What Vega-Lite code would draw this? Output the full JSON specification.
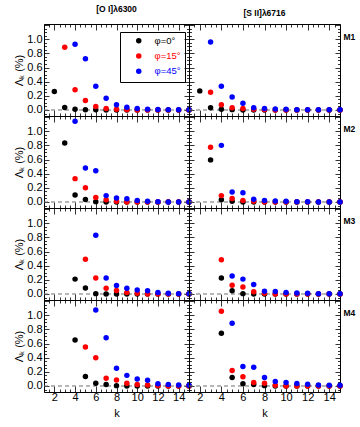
{
"$schema": "https://vega.github.io/schema/vega-lite/v6.json",
"background": "white",
"padding": {"left": 13, "top": 4, "right": 2, "bottom": 2},
"datasets": {"d": [
{"m":"M1","line":"OI","phi":"φ=0°","k":2,"val":0.26},{"m":"M1","line":"OI","phi":"φ=0°","k":3,"val":0.035},{"m":"M1","line":"OI","phi":"φ=0°","k":4,"val":0.01},{"m":"M1","line":"OI","phi":"φ=0°","k":5,"val":0.004},{"m":"M1","line":"OI","phi":"φ=0°","k":6,"val":0.002},{"m":"M1","line":"OI","phi":"φ=0°","k":7,"val":0},{"m":"M1","line":"OI","phi":"φ=0°","k":8,"val":0},{"m":"M1","line":"OI","phi":"φ=0°","k":9,"val":0},{"m":"M1","line":"OI","phi":"φ=0°","k":10,"val":0},{"m":"M1","line":"OI","phi":"φ=0°","k":11,"val":0},{"m":"M1","line":"OI","phi":"φ=0°","k":12,"val":0},{"m":"M1","line":"OI","phi":"φ=0°","k":13,"val":0},{"m":"M1","line":"OI","phi":"φ=0°","k":14,"val":0},{"m":"M1","line":"OI","phi":"φ=0°","k":15,"val":0},
{"m":"M1","line":"OI","phi":"φ=15°","k":3,"val":0.885},{"m":"M1","line":"OI","phi":"φ=15°","k":4,"val":0.285},{"m":"M1","line":"OI","phi":"φ=15°","k":5,"val":0.135},{"m":"M1","line":"OI","phi":"φ=15°","k":6,"val":0.05},{"m":"M1","line":"OI","phi":"φ=15°","k":7,"val":0.02},{"m":"M1","line":"OI","phi":"φ=15°","k":8,"val":0.01},{"m":"M1","line":"OI","phi":"φ=15°","k":9,"val":0.005},{"m":"M1","line":"OI","phi":"φ=15°","k":10,"val":0},{"m":"M1","line":"OI","phi":"φ=15°","k":11,"val":0},{"m":"M1","line":"OI","phi":"φ=15°","k":12,"val":0},{"m":"M1","line":"OI","phi":"φ=15°","k":13,"val":0},{"m":"M1","line":"OI","phi":"φ=15°","k":14,"val":0},{"m":"M1","line":"OI","phi":"φ=15°","k":15,"val":0},
{"m":"M1","line":"OI","phi":"φ=45°","k":4,"val":0.93},{"m":"M1","line":"OI","phi":"φ=45°","k":5,"val":0.725},{"m":"M1","line":"OI","phi":"φ=45°","k":6,"val":0.335},{"m":"M1","line":"OI","phi":"φ=45°","k":7,"val":0.165},{"m":"M1","line":"OI","phi":"φ=45°","k":8,"val":0.075},{"m":"M1","line":"OI","phi":"φ=45°","k":9,"val":0.04},{"m":"M1","line":"OI","phi":"φ=45°","k":10,"val":0.02},{"m":"M1","line":"OI","phi":"φ=45°","k":11,"val":0.012},{"m":"M1","line":"OI","phi":"φ=45°","k":12,"val":0.008},{"m":"M1","line":"OI","phi":"φ=45°","k":13,"val":0.005},{"m":"M1","line":"OI","phi":"φ=45°","k":14,"val":0.003},{"m":"M1","line":"OI","phi":"φ=45°","k":15,"val":0.002},

{"m":"M1","line":"SII","phi":"φ=0°","k":2,"val":0.27},{"m":"M1","line":"SII","phi":"φ=0°","k":3,"val":0.03},{"m":"M1","line":"SII","phi":"φ=0°","k":4,"val":0.01},{"m":"M1","line":"SII","phi":"φ=0°","k":5,"val":0.005},{"m":"M1","line":"SII","phi":"φ=0°","k":6,"val":0},{"m":"M1","line":"SII","phi":"φ=0°","k":7,"val":0},{"m":"M1","line":"SII","phi":"φ=0°","k":8,"val":0},{"m":"M1","line":"SII","phi":"φ=0°","k":9,"val":0},{"m":"M1","line":"SII","phi":"φ=0°","k":10,"val":0},{"m":"M1","line":"SII","phi":"φ=0°","k":11,"val":0},{"m":"M1","line":"SII","phi":"φ=0°","k":12,"val":0},{"m":"M1","line":"SII","phi":"φ=0°","k":13,"val":0},{"m":"M1","line":"SII","phi":"φ=0°","k":14,"val":0},{"m":"M1","line":"SII","phi":"φ=0°","k":15,"val":0},
{"m":"M1","line":"SII","phi":"φ=15°","k":3,"val":0.25},{"m":"M1","line":"SII","phi":"φ=15°","k":4,"val":0.075},{"m":"M1","line":"SII","phi":"φ=15°","k":5,"val":0.03},{"m":"M1","line":"SII","phi":"φ=15°","k":6,"val":0.02},{"m":"M1","line":"SII","phi":"φ=15°","k":7,"val":0.01},{"m":"M1","line":"SII","phi":"φ=15°","k":8,"val":0.005},{"m":"M1","line":"SII","phi":"φ=15°","k":9,"val":0},{"m":"M1","line":"SII","phi":"φ=15°","k":10,"val":0},{"m":"M1","line":"SII","phi":"φ=15°","k":11,"val":0},{"m":"M1","line":"SII","phi":"φ=15°","k":12,"val":0},{"m":"M1","line":"SII","phi":"φ=15°","k":13,"val":0},{"m":"M1","line":"SII","phi":"φ=15°","k":14,"val":0},{"m":"M1","line":"SII","phi":"φ=15°","k":15,"val":0},
{"m":"M1","line":"SII","phi":"φ=45°","k":3,"val":0.96},{"m":"M1","line":"SII","phi":"φ=45°","k":4,"val":0.335},{"m":"M1","line":"SII","phi":"φ=45°","k":5,"val":0.185},{"m":"M1","line":"SII","phi":"φ=45°","k":6,"val":0.095},{"m":"M1","line":"SII","phi":"φ=45°","k":7,"val":0.03},{"m":"M1","line":"SII","phi":"φ=45°","k":8,"val":0.02},{"m":"M1","line":"SII","phi":"φ=45°","k":9,"val":0.015},{"m":"M1","line":"SII","phi":"φ=45°","k":10,"val":0.01},{"m":"M1","line":"SII","phi":"φ=45°","k":11,"val":0.005},{"m":"M1","line":"SII","phi":"φ=45°","k":12,"val":0.002},{"m":"M1","line":"SII","phi":"φ=45°","k":13,"val":0.002},{"m":"M1","line":"SII","phi":"φ=45°","k":14,"val":0.002},{"m":"M1","line":"SII","phi":"φ=45°","k":15,"val":0.002},

{"m":"M2","line":"OI","phi":"φ=0°","k":3,"val":0.835},{"m":"M2","line":"OI","phi":"φ=0°","k":4,"val":0.1},{"m":"M2","line":"OI","phi":"φ=0°","k":5,"val":0.035},{"m":"M2","line":"OI","phi":"φ=0°","k":6,"val":0.005},{"m":"M2","line":"OI","phi":"φ=0°","k":7,"val":0},{"m":"M2","line":"OI","phi":"φ=0°","k":8,"val":0},{"m":"M2","line":"OI","phi":"φ=0°","k":9,"val":0},{"m":"M2","line":"OI","phi":"φ=0°","k":10,"val":0},{"m":"M2","line":"OI","phi":"φ=0°","k":11,"val":0},{"m":"M2","line":"OI","phi":"φ=0°","k":12,"val":0},{"m":"M2","line":"OI","phi":"φ=0°","k":13,"val":0},{"m":"M2","line":"OI","phi":"φ=0°","k":14,"val":0},{"m":"M2","line":"OI","phi":"φ=0°","k":15,"val":0},
{"m":"M2","line":"OI","phi":"φ=15°","k":4,"val":0.33},{"m":"M2","line":"OI","phi":"φ=15°","k":5,"val":0.2},{"m":"M2","line":"OI","phi":"φ=15°","k":6,"val":0.065},{"m":"M2","line":"OI","phi":"φ=15°","k":7,"val":0.03},{"m":"M2","line":"OI","phi":"φ=15°","k":8,"val":0.01},{"m":"M2","line":"OI","phi":"φ=15°","k":9,"val":0},{"m":"M2","line":"OI","phi":"φ=15°","k":10,"val":0},{"m":"M2","line":"OI","phi":"φ=15°","k":11,"val":0},{"m":"M2","line":"OI","phi":"φ=15°","k":12,"val":0},{"m":"M2","line":"OI","phi":"φ=15°","k":13,"val":0},{"m":"M2","line":"OI","phi":"φ=15°","k":14,"val":0},{"m":"M2","line":"OI","phi":"φ=15°","k":15,"val":0},
{"m":"M2","line":"OI","phi":"φ=45°","k":4,"val":1.14},{"m":"M2","line":"OI","phi":"φ=45°","k":5,"val":0.48},{"m":"M2","line":"OI","phi":"φ=45°","k":6,"val":0.44},{"m":"M2","line":"OI","phi":"φ=45°","k":7,"val":0.09},{"m":"M2","line":"OI","phi":"φ=45°","k":8,"val":0.055},{"m":"M2","line":"OI","phi":"φ=45°","k":9,"val":0.045},{"m":"M2","line":"OI","phi":"φ=45°","k":10,"val":0.02},{"m":"M2","line":"OI","phi":"φ=45°","k":11,"val":0.01},{"m":"M2","line":"OI","phi":"φ=45°","k":12,"val":0.005},{"m":"M2","line":"OI","phi":"φ=45°","k":13,"val":0},{"m":"M2","line":"OI","phi":"φ=45°","k":14,"val":0},{"m":"M2","line":"OI","phi":"φ=45°","k":15,"val":0},

{"m":"M2","line":"SII","phi":"φ=0°","k":3,"val":0.595},{"m":"M2","line":"SII","phi":"φ=0°","k":4,"val":0.03},{"m":"M2","line":"SII","phi":"φ=0°","k":5,"val":0.01},{"m":"M2","line":"SII","phi":"φ=0°","k":6,"val":0},{"m":"M2","line":"SII","phi":"φ=0°","k":7,"val":0},{"m":"M2","line":"SII","phi":"φ=0°","k":8,"val":0},{"m":"M2","line":"SII","phi":"φ=0°","k":9,"val":0},{"m":"M2","line":"SII","phi":"φ=0°","k":10,"val":0},{"m":"M2","line":"SII","phi":"φ=0°","k":11,"val":0},{"m":"M2","line":"SII","phi":"φ=0°","k":12,"val":0},{"m":"M2","line":"SII","phi":"φ=0°","k":13,"val":0},{"m":"M2","line":"SII","phi":"φ=0°","k":14,"val":0},{"m":"M2","line":"SII","phi":"φ=0°","k":15,"val":0},
{"m":"M2","line":"SII","phi":"φ=15°","k":3,"val":0.775},{"m":"M2","line":"SII","phi":"φ=15°","k":4,"val":0.09},{"m":"M2","line":"SII","phi":"φ=15°","k":5,"val":0.05},{"m":"M2","line":"SII","phi":"φ=15°","k":6,"val":0.02},{"m":"M2","line":"SII","phi":"φ=15°","k":7,"val":0.01},{"m":"M2","line":"SII","phi":"φ=15°","k":8,"val":0},{"m":"M2","line":"SII","phi":"φ=15°","k":9,"val":0},{"m":"M2","line":"SII","phi":"φ=15°","k":10,"val":0},{"m":"M2","line":"SII","phi":"φ=15°","k":11,"val":0},{"m":"M2","line":"SII","phi":"φ=15°","k":12,"val":0},{"m":"M2","line":"SII","phi":"φ=15°","k":13,"val":0},{"m":"M2","line":"SII","phi":"φ=15°","k":14,"val":0},{"m":"M2","line":"SII","phi":"φ=15°","k":15,"val":0},
{"m":"M2","line":"SII","phi":"φ=45°","k":4,"val":0.8},{"m":"M2","line":"SII","phi":"φ=45°","k":5,"val":0.14},{"m":"M2","line":"SII","phi":"φ=45°","k":6,"val":0.13},{"m":"M2","line":"SII","phi":"φ=45°","k":7,"val":0.04},{"m":"M2","line":"SII","phi":"φ=45°","k":8,"val":0.02},{"m":"M2","line":"SII","phi":"φ=45°","k":9,"val":0.015},{"m":"M2","line":"SII","phi":"φ=45°","k":10,"val":0.01},{"m":"M2","line":"SII","phi":"φ=45°","k":11,"val":0.003},{"m":"M2","line":"SII","phi":"φ=45°","k":12,"val":0.002},{"m":"M2","line":"SII","phi":"φ=45°","k":13,"val":0},{"m":"M2","line":"SII","phi":"φ=45°","k":14,"val":0},{"m":"M2","line":"SII","phi":"φ=45°","k":15,"val":0},

{"m":"M3","line":"OI","phi":"φ=0°","k":4,"val":0.21},{"m":"M3","line":"OI","phi":"φ=0°","k":5,"val":0.085},{"m":"M3","line":"OI","phi":"φ=0°","k":6,"val":0.005},{"m":"M3","line":"OI","phi":"φ=0°","k":7,"val":0},{"m":"M3","line":"OI","phi":"φ=0°","k":8,"val":0},{"m":"M3","line":"OI","phi":"φ=0°","k":9,"val":0},{"m":"M3","line":"OI","phi":"φ=0°","k":10,"val":0},{"m":"M3","line":"OI","phi":"φ=0°","k":11,"val":0},{"m":"M3","line":"OI","phi":"φ=0°","k":12,"val":0},{"m":"M3","line":"OI","phi":"φ=0°","k":13,"val":0},{"m":"M3","line":"OI","phi":"φ=0°","k":14,"val":0},{"m":"M3","line":"OI","phi":"φ=0°","k":15,"val":0},
{"m":"M3","line":"OI","phi":"φ=15°","k":5,"val":0.49},{"m":"M3","line":"OI","phi":"φ=15°","k":6,"val":0.225},{"m":"M3","line":"OI","phi":"φ=15°","k":7,"val":0.08},{"m":"M3","line":"OI","phi":"φ=15°","k":8,"val":0.05},{"m":"M3","line":"OI","phi":"φ=15°","k":9,"val":0.02},{"m":"M3","line":"OI","phi":"φ=15°","k":10,"val":0.01},{"m":"M3","line":"OI","phi":"φ=15°","k":11,"val":0},{"m":"M3","line":"OI","phi":"φ=15°","k":12,"val":0},{"m":"M3","line":"OI","phi":"φ=15°","k":13,"val":0},{"m":"M3","line":"OI","phi":"φ=15°","k":14,"val":0},{"m":"M3","line":"OI","phi":"φ=15°","k":15,"val":0},
{"m":"M3","line":"OI","phi":"φ=45°","k":6,"val":0.83},{"m":"M3","line":"OI","phi":"φ=45°","k":7,"val":0.225},{"m":"M3","line":"OI","phi":"φ=45°","k":8,"val":0.12},{"m":"M3","line":"OI","phi":"φ=45°","k":9,"val":0.08},{"m":"M3","line":"OI","phi":"φ=45°","k":10,"val":0.055},{"m":"M3","line":"OI","phi":"φ=45°","k":11,"val":0.045},{"m":"M3","line":"OI","phi":"φ=45°","k":12,"val":0.02},{"m":"M3","line":"OI","phi":"φ=45°","k":13,"val":0.01},{"m":"M3","line":"OI","phi":"φ=45°","k":14,"val":0.005},{"m":"M3","line":"OI","phi":"φ=45°","k":15,"val":0.003},

{"m":"M3","line":"SII","phi":"φ=0°","k":4,"val":0.225},{"m":"M3","line":"SII","phi":"φ=0°","k":5,"val":0.045},{"m":"M3","line":"SII","phi":"φ=0°","k":6,"val":0.005},{"m":"M3","line":"SII","phi":"φ=0°","k":7,"val":0},{"m":"M3","line":"SII","phi":"φ=0°","k":8,"val":0},{"m":"M3","line":"SII","phi":"φ=0°","k":9,"val":0},{"m":"M3","line":"SII","phi":"φ=0°","k":10,"val":0},{"m":"M3","line":"SII","phi":"φ=0°","k":11,"val":0},{"m":"M3","line":"SII","phi":"φ=0°","k":12,"val":0},{"m":"M3","line":"SII","phi":"φ=0°","k":13,"val":0},{"m":"M3","line":"SII","phi":"φ=0°","k":14,"val":0},{"m":"M3","line":"SII","phi":"φ=0°","k":15,"val":0},
{"m":"M3","line":"SII","phi":"φ=15°","k":4,"val":0.485},{"m":"M3","line":"SII","phi":"φ=15°","k":5,"val":0.125},{"m":"M3","line":"SII","phi":"φ=15°","k":6,"val":0.1},{"m":"M3","line":"SII","phi":"φ=15°","k":7,"val":0.03},{"m":"M3","line":"SII","phi":"φ=15°","k":8,"val":0.01},{"m":"M3","line":"SII","phi":"φ=15°","k":9,"val":0},{"m":"M3","line":"SII","phi":"φ=15°","k":10,"val":0},{"m":"M3","line":"SII","phi":"φ=15°","k":11,"val":0},{"m":"M3","line":"SII","phi":"φ=15°","k":12,"val":0},{"m":"M3","line":"SII","phi":"φ=15°","k":13,"val":0},{"m":"M3","line":"SII","phi":"φ=15°","k":14,"val":0},{"m":"M3","line":"SII","phi":"φ=15°","k":15,"val":0},
{"m":"M3","line":"SII","phi":"φ=45°","k":5,"val":0.255},{"m":"M3","line":"SII","phi":"φ=45°","k":6,"val":0.21},{"m":"M3","line":"SII","phi":"φ=45°","k":7,"val":0.135},{"m":"M3","line":"SII","phi":"φ=45°","k":8,"val":0.04},{"m":"M3","line":"SII","phi":"φ=45°","k":9,"val":0.035},{"m":"M3","line":"SII","phi":"φ=45°","k":10,"val":0.02},{"m":"M3","line":"SII","phi":"φ=45°","k":11,"val":0.015},{"m":"M3","line":"SII","phi":"φ=45°","k":12,"val":0.01},{"m":"M3","line":"SII","phi":"φ=45°","k":13,"val":0.005},{"m":"M3","line":"SII","phi":"φ=45°","k":14,"val":0.002},{"m":"M3","line":"SII","phi":"φ=45°","k":15,"val":0.002},

{"m":"M4","line":"OI","phi":"φ=0°","k":4,"val":0.65},{"m":"M4","line":"OI","phi":"φ=0°","k":5,"val":0.135},{"m":"M4","line":"OI","phi":"φ=0°","k":6,"val":0.04},{"m":"M4","line":"OI","phi":"φ=0°","k":7,"val":0.02},{"m":"M4","line":"OI","phi":"φ=0°","k":8,"val":0.005},{"m":"M4","line":"OI","phi":"φ=0°","k":9,"val":0},{"m":"M4","line":"OI","phi":"φ=0°","k":10,"val":0},{"m":"M4","line":"OI","phi":"φ=0°","k":11,"val":0},{"m":"M4","line":"OI","phi":"φ=0°","k":12,"val":0},{"m":"M4","line":"OI","phi":"φ=0°","k":13,"val":0},{"m":"M4","line":"OI","phi":"φ=0°","k":14,"val":0},{"m":"M4","line":"OI","phi":"φ=0°","k":15,"val":0},
{"m":"M4","line":"OI","phi":"φ=15°","k":5,"val":0.55},{"m":"M4","line":"OI","phi":"φ=15°","k":6,"val":0.4},{"m":"M4","line":"OI","phi":"φ=15°","k":7,"val":0.11},{"m":"M4","line":"OI","phi":"φ=15°","k":8,"val":0.085},{"m":"M4","line":"OI","phi":"φ=15°","k":9,"val":0.04},{"m":"M4","line":"OI","phi":"φ=15°","k":10,"val":0.02},{"m":"M4","line":"OI","phi":"φ=15°","k":11,"val":0.015},{"m":"M4","line":"OI","phi":"φ=15°","k":12,"val":0.005},{"m":"M4","line":"OI","phi":"φ=15°","k":13,"val":0},{"m":"M4","line":"OI","phi":"φ=15°","k":14,"val":0},{"m":"M4","line":"OI","phi":"φ=15°","k":15,"val":0},
{"m":"M4","line":"OI","phi":"φ=45°","k":6,"val":1.075},{"m":"M4","line":"OI","phi":"φ=45°","k":7,"val":0.68},{"m":"M4","line":"OI","phi":"φ=45°","k":8,"val":0.25},{"m":"M4","line":"OI","phi":"φ=45°","k":9,"val":0.15},{"m":"M4","line":"OI","phi":"φ=45°","k":10,"val":0.1},{"m":"M4","line":"OI","phi":"φ=45°","k":11,"val":0.08},{"m":"M4","line":"OI","phi":"φ=45°","k":12,"val":0.03},{"m":"M4","line":"OI","phi":"φ=45°","k":13,"val":0.02},{"m":"M4","line":"OI","phi":"φ=45°","k":14,"val":0.015},{"m":"M4","line":"OI","phi":"φ=45°","k":15,"val":0.01},

{"m":"M4","line":"SII","phi":"φ=0°","k":4,"val":0.745},{"m":"M4","line":"SII","phi":"φ=0°","k":5,"val":0.12},{"m":"M4","line":"SII","phi":"φ=0°","k":6,"val":0.03},{"m":"M4","line":"SII","phi":"φ=0°","k":7,"val":0.02},{"m":"M4","line":"SII","phi":"φ=0°","k":8,"val":0.005},{"m":"M4","line":"SII","phi":"φ=0°","k":9,"val":0},{"m":"M4","line":"SII","phi":"φ=0°","k":10,"val":0},{"m":"M4","line":"SII","phi":"φ=0°","k":11,"val":0},{"m":"M4","line":"SII","phi":"φ=0°","k":12,"val":0},{"m":"M4","line":"SII","phi":"φ=0°","k":13,"val":0},{"m":"M4","line":"SII","phi":"φ=0°","k":14,"val":0},{"m":"M4","line":"SII","phi":"φ=0°","k":15,"val":0},
{"m":"M4","line":"SII","phi":"φ=15°","k":4,"val":1.055},{"m":"M4","line":"SII","phi":"φ=15°","k":5,"val":0.22},{"m":"M4","line":"SII","phi":"φ=15°","k":6,"val":0.13},{"m":"M4","line":"SII","phi":"φ=15°","k":7,"val":0.05},{"m":"M4","line":"SII","phi":"φ=15°","k":8,"val":0.04},{"m":"M4","line":"SII","phi":"φ=15°","k":9,"val":0.01},{"m":"M4","line":"SII","phi":"φ=15°","k":10,"val":0},{"m":"M4","line":"SII","phi":"φ=15°","k":11,"val":0},{"m":"M4","line":"SII","phi":"φ=15°","k":12,"val":0},{"m":"M4","line":"SII","phi":"φ=15°","k":13,"val":0},{"m":"M4","line":"SII","phi":"φ=15°","k":14,"val":0},{"m":"M4","line":"SII","phi":"φ=15°","k":15,"val":0},
{"m":"M4","line":"SII","phi":"φ=45°","k":5,"val":0.885},{"m":"M4","line":"SII","phi":"φ=45°","k":6,"val":0.275},{"m":"M4","line":"SII","phi":"φ=45°","k":7,"val":0.265},{"m":"M4","line":"SII","phi":"φ=45°","k":8,"val":0.12},{"m":"M4","line":"SII","phi":"φ=45°","k":9,"val":0.065},{"m":"M4","line":"SII","phi":"φ=45°","k":10,"val":0.05},{"m":"M4","line":"SII","phi":"φ=45°","k":11,"val":0.035},{"m":"M4","line":"SII","phi":"φ=45°","k":12,"val":0.025},{"m":"M4","line":"SII","phi":"φ=45°","k":13,"val":0.015},{"m":"M4","line":"SII","phi":"φ=45°","k":14,"val":0.01},{"m":"M4","line":"SII","phi":"φ=45°","k":15,"val":0.01}
]},
"data": {"name": "d"},
"columns": 2,
"spacing": 0,
"align": "each",
"bounds": "flush",
"resolve": {"scale": {"color": "independent"}, "legend": {"color": "independent"}},
"concat": [
{"width": 145, "height": 92,
 "title": {"text": "[O I]λ6300", "frame": "group", "anchor": "middle", "fontSize": 8.5, "fontWeight": "bold", "font": "Liberation Sans", "offset": 6},
 "layer": [
  {"data": {"values": [{}]}, "mark": {"type": "rule", "strokeDash": [4, 3], "color": "#707070", "strokeWidth": 1},
   "encoding": {
    "x": {"datum": 1, "type": "quantitative", "scale": {"domain": [1, 15], "nice": false, "zero": false}, "axis": {"orient": "top", "values": [1,1.5,2,2.5,3,3.5,4,4.5,5,5.5,6,6.5,7,7.5,8,8.5,9,9.5,10,10.5,11,11.5,12,12.5,13,13.5,14,14.5,15], "labels": false, "title": null, "tickSize": {"condition": {"test": "datum.value % 2 === 0", "value": -6}, "value": -3}}},
    "x2": {"datum": 15},
    "y": {"datum": 0, "type": "quantitative", "scale": {"domain": [-0.085, 1.215], "nice": false, "zero": false}, "axis": {"orient": "right", "values": [-0.05,0,0.05,0.1,0.15,0.2,0.25,0.3,0.35,0.4,0.45,0.5,0.55,0.6,0.65,0.7,0.75,0.8,0.85,0.9,0.95,1,1.05,1.1,1.15,1.2], "labels": false, "title": null, "tickSize": {"condition": {"test": "abs(datum.value*5 - round(datum.value*5)) < 0.001", "value": -5}, "value": -2.5}}}
   }},
  {"transform": [{"filter": "datum.m === 'M1' && datum.line === 'OI' && datum.phi === 'φ=0°'"}],
   "mark": {"type": "circle", "size": 30, "opacity": 1},
   "encoding": {
    "x": {"field": "k", "type": "quantitative", "axis": {"orient": "bottom", "values": [1,1.5,2,2.5,3,3.5,4,4.5,5,5.5,6,6.5,7,7.5,8,8.5,9,9.5,10,10.5,11,11.5,12,12.5,13,13.5,14,14.5,15], "labels": false, "title": null, "tickSize": {"condition": {"test": "datum.value % 2 === 0", "value": -6}, "value": -3}}},
    "y": {"field": "val", "type": "quantitative", "axis": {"orient": "left", "values": [-0.05,0,0.05,0.1,0.15,0.2,0.25,0.3,0.35,0.4,0.45,0.5,0.55,0.6,0.65,0.7,0.75,0.8,0.85,0.9,0.95,1,1.05,1.1,1.15,1.2], "labels": true, "labelExpr": "datum.value > -0.01 && datum.value < 1.01 && abs(datum.value*5 - round(datum.value*5)) < 0.001 ? format(datum.value, '.1f') : ''", "title": "Λₖ (%)", "titlePadding": 2, "labelPadding": 7, "tickSize": {"condition": {"test": "abs(datum.value*5 - round(datum.value*5)) < 0.001", "value": -5}, "value": -2.5}}},
    "color": {"field": "phi", "type": "nominal", "scale": {"domain": ["φ=0°"], "range": ["#000000"]},
      "legend": {"title": null, "orient": "none", "legendX": 76, "legendY": 8, "padding": 4, "symbolType": "circle", "symbolSize": 30, "symbolOffset": 10, "labelOffset": 11, "labelFont": "Liberation Sans", "labelFontSize": 9.5, "labelColor": "#000000"}}
   }},
  {"transform": [{"filter": "datum.m === 'M1' && datum.line === 'OI' && datum.phi === 'φ=15°'"}],
   "mark": {"type": "circle", "size": 30, "opacity": 1},
   "encoding": {
    "x": {"field": "k", "type": "quantitative", "axis": null},
    "y": {"field": "val", "type": "quantitative", "axis": null},
    "color": {"field": "phi", "type": "nominal", "scale": {"domain": ["φ=15°"], "range": ["#ff0000"]},
      "legend": {"title": null, "orient": "none", "legendX": 76, "legendY": 23.3, "padding": 4, "symbolType": "circle", "symbolSize": 30, "symbolOffset": 10, "labelOffset": 11, "labelFont": "Liberation Sans", "labelFontSize": 9.5, "labelColor": "#ff0000"}}
   }},
  {"transform": [{"filter": "datum.m === 'M1' && datum.line === 'OI' && datum.phi === 'φ=45°'"}],
   "mark": {"type": "circle", "size": 30, "opacity": 1},
   "encoding": {
    "x": {"field": "k", "type": "quantitative", "axis": null},
    "y": {"field": "val", "type": "quantitative", "axis": null},
    "color": {"field": "phi", "type": "nominal", "scale": {"domain": ["φ=45°"], "range": ["#0000ff"]},
      "legend": {"title": null, "orient": "none", "legendX": 76, "legendY": 38.6, "padding": 4, "symbolType": "circle", "symbolSize": 30, "symbolOffset": 10, "labelOffset": 11, "labelFont": "Liberation Sans", "labelFontSize": 9.5, "labelColor": "#0000ff"}}
   }}
 ],
 "resolve": {"axis": {"x": "independent", "y": "independent"}, "scale": {"color": "independent"}, "legend": {"color": "independent"}}
},
{"width": 151, "height": 92,
 "title": {"text": "[S II]λ6716", "frame": "group", "anchor": "middle", "fontSize": 8.5, "fontWeight": "bold", "font": "Liberation Sans", "offset": 6},
 "layer": [
  {"data": {"values": [{}]}, "mark": {"type": "rule", "strokeDash": [4, 3], "color": "#707070", "strokeWidth": 1},
   "encoding": {
    "x": {"datum": 1, "type": "quantitative", "scale": {"domain": [1, 15], "nice": false, "zero": false}, "axis": {"orient": "top", "values": [1,1.5,2,2.5,3,3.5,4,4.5,5,5.5,6,6.5,7,7.5,8,8.5,9,9.5,10,10.5,11,11.5,12,12.5,13,13.5,14,14.5,15], "labels": false, "title": null, "tickSize": {"condition": {"test": "datum.value % 2 === 0", "value": -6}, "value": -3}}},
    "x2": {"datum": 15},
    "y": {"datum": 0, "type": "quantitative", "scale": {"domain": [-0.085, 1.215], "nice": false, "zero": false}, "axis": {"orient": "right", "values": [-0.05,0,0.05,0.1,0.15,0.2,0.25,0.3,0.35,0.4,0.45,0.5,0.55,0.6,0.65,0.7,0.75,0.8,0.85,0.9,0.95,1,1.05,1.1,1.15,1.2], "labels": false, "title": "M1", "titleAngle": 0, "titleX": 3, "titleY": 8, "titleAlign": "left", "titleBaseline": "top", "titleFontWeight": "bold", "titleFontSize": 8.5, "tickSize": {"condition": {"test": "abs(datum.value*5 - round(datum.value*5)) < 0.001", "value": -5}, "value": -2.5}}}
   }},
  {"transform": [{"filter": "datum.m === 'M1' && datum.line === 'SII'"}],
   "mark": {"type": "circle", "size": 30, "opacity": 1},
   "encoding": {
    "x": {"field": "k", "type": "quantitative", "axis": {"orient": "bottom", "values": [1,1.5,2,2.5,3,3.5,4,4.5,5,5.5,6,6.5,7,7.5,8,8.5,9,9.5,10,10.5,11,11.5,12,12.5,13,13.5,14,14.5,15], "labels": false, "title": null, "tickSize": {"condition": {"test": "datum.value % 2 === 0", "value": -6}, "value": -3}}},
    "y": {"field": "val", "type": "quantitative", "axis": {"orient": "left", "values": [-0.05,0,0.05,0.1,0.15,0.2,0.25,0.3,0.35,0.4,0.45,0.5,0.55,0.6,0.65,0.7,0.75,0.8,0.85,0.9,0.95,1,1.05,1.1,1.15,1.2], "labels": false, "title": null, "tickSize": {"condition": {"test": "abs(datum.value*5 - round(datum.value*5)) < 0.001", "value": -5}, "value": -2.5}}},
    "color": {"field": "phi", "type": "nominal", "scale": {"domain": ["φ=0°", "φ=15°", "φ=45°"], "range": ["#000000", "#ff0000", "#0000ff"]},
      "legend": {"title": null, "orient": "none", "legendX": -69, "legendY": 8, "strokeColor": "#000000", "padding": 4, "symbolType": "circle", "symbolSize": 30, "symbolOffset": 10, "labelOffset": 11, "rowPadding": 5, "labelFont": "Liberation Sans", "labelFontSize": 9.5, "symbolOpacity": 0, "labelOpacity": 0}}
   }}
 ],
 "resolve": {"axis": {"x": "independent", "y": "independent"}}
},
{"width": 145, "height": 92,
 "layer": [
  {"data": {"values": [{}]}, "mark": {"type": "rule", "strokeDash": [4, 3], "color": "#707070", "strokeWidth": 1},
   "encoding": {
    "x": {"datum": 1, "type": "quantitative", "scale": {"domain": [1, 15], "nice": false, "zero": false}, "axis": {"orient": "top", "values": [1,1.5,2,2.5,3,3.5,4,4.5,5,5.5,6,6.5,7,7.5,8,8.5,9,9.5,10,10.5,11,11.5,12,12.5,13,13.5,14,14.5,15], "labels": false, "title": null, "tickSize": {"condition": {"test": "datum.value % 2 === 0", "value": -6}, "value": -3}}},
    "x2": {"datum": 15},
    "y": {"datum": 0, "type": "quantitative", "scale": {"domain": [-0.085, 1.215], "nice": false, "zero": false}, "axis": {"orient": "right", "values": [-0.05,0,0.05,0.1,0.15,0.2,0.25,0.3,0.35,0.4,0.45,0.5,0.55,0.6,0.65,0.7,0.75,0.8,0.85,0.9,0.95,1,1.05,1.1,1.15,1.2], "labels": false, "title": null, "tickSize": {"condition": {"test": "abs(datum.value*5 - round(datum.value*5)) < 0.001", "value": -5}, "value": -2.5}}}
   }},
  {"transform": [{"filter": "datum.m === 'M2' && datum.line === 'OI'"}],
   "mark": {"type": "circle", "size": 30, "opacity": 1},
   "encoding": {
    "x": {"field": "k", "type": "quantitative", "axis": {"orient": "bottom", "values": [1,1.5,2,2.5,3,3.5,4,4.5,5,5.5,6,6.5,7,7.5,8,8.5,9,9.5,10,10.5,11,11.5,12,12.5,13,13.5,14,14.5,15], "labels": false, "title": null, "tickSize": {"condition": {"test": "datum.value % 2 === 0", "value": -6}, "value": -3}}},
    "y": {"field": "val", "type": "quantitative", "axis": {"orient": "left", "values": [-0.05,0,0.05,0.1,0.15,0.2,0.25,0.3,0.35,0.4,0.45,0.5,0.55,0.6,0.65,0.7,0.75,0.8,0.85,0.9,0.95,1,1.05,1.1,1.15,1.2], "labels": true, "labelExpr": "datum.value > -0.01 && datum.value < 1.01 && abs(datum.value*5 - round(datum.value*5)) < 0.001 ? format(datum.value, '.1f') : ''", "title": "Λₖ (%)", "titlePadding": 2, "labelPadding": 7, "tickSize": {"condition": {"test": "abs(datum.value*5 - round(datum.value*5)) < 0.001", "value": -5}, "value": -2.5}}},
    "color": {"field": "phi", "type": "nominal", "scale": {"domain": ["φ=0°", "φ=15°", "φ=45°"], "range": ["#000000", "#ff0000", "#0000ff"]}, "legend": null}
   }}
 ],
 "resolve": {"axis": {"x": "independent", "y": "independent"}}
},
{"width": 151, "height": 92,
 "layer": [
  {"data": {"values": [{}]}, "mark": {"type": "rule", "strokeDash": [4, 3], "color": "#707070", "strokeWidth": 1},
   "encoding": {
    "x": {"datum": 1, "type": "quantitative", "scale": {"domain": [1, 15], "nice": false, "zero": false}, "axis": {"orient": "top", "values": [1,1.5,2,2.5,3,3.5,4,4.5,5,5.5,6,6.5,7,7.5,8,8.5,9,9.5,10,10.5,11,11.5,12,12.5,13,13.5,14,14.5,15], "labels": false, "title": null, "tickSize": {"condition": {"test": "datum.value % 2 === 0", "value": -6}, "value": -3}}},
    "x2": {"datum": 15},
    "y": {"datum": 0, "type": "quantitative", "scale": {"domain": [-0.085, 1.215], "nice": false, "zero": false}, "axis": {"orient": "right", "values": [-0.05,0,0.05,0.1,0.15,0.2,0.25,0.3,0.35,0.4,0.45,0.5,0.55,0.6,0.65,0.7,0.75,0.8,0.85,0.9,0.95,1,1.05,1.1,1.15,1.2], "labels": false, "title": "M2", "titleAngle": 0, "titleX": 3, "titleY": 8, "titleAlign": "left", "titleBaseline": "top", "titleFontWeight": "bold", "titleFontSize": 8.5, "tickSize": {"condition": {"test": "abs(datum.value*5 - round(datum.value*5)) < 0.001", "value": -5}, "value": -2.5}}}
   }},
  {"transform": [{"filter": "datum.m === 'M2' && datum.line === 'SII'"}],
   "mark": {"type": "circle", "size": 30, "opacity": 1},
   "encoding": {
    "x": {"field": "k", "type": "quantitative", "axis": {"orient": "bottom", "values": [1,1.5,2,2.5,3,3.5,4,4.5,5,5.5,6,6.5,7,7.5,8,8.5,9,9.5,10,10.5,11,11.5,12,12.5,13,13.5,14,14.5,15], "labels": false, "title": null, "tickSize": {"condition": {"test": "datum.value % 2 === 0", "value": -6}, "value": -3}}},
    "y": {"field": "val", "type": "quantitative", "axis": {"orient": "left", "values": [-0.05,0,0.05,0.1,0.15,0.2,0.25,0.3,0.35,0.4,0.45,0.5,0.55,0.6,0.65,0.7,0.75,0.8,0.85,0.9,0.95,1,1.05,1.1,1.15,1.2], "labels": false, "title": null, "tickSize": {"condition": {"test": "abs(datum.value*5 - round(datum.value*5)) < 0.001", "value": -5}, "value": -2.5}}},
    "color": {"field": "phi", "type": "nominal", "scale": {"domain": ["φ=0°", "φ=15°", "φ=45°"], "range": ["#000000", "#ff0000", "#0000ff"]}, "legend": null}
   }}
 ],
 "resolve": {"axis": {"x": "independent", "y": "independent"}}
},
{"width": 145, "height": 92,
 "layer": [
  {"data": {"values": [{}]}, "mark": {"type": "rule", "strokeDash": [4, 3], "color": "#707070", "strokeWidth": 1},
   "encoding": {
    "x": {"datum": 1, "type": "quantitative", "scale": {"domain": [1, 15], "nice": false, "zero": false}, "axis": {"orient": "top", "values": [1,1.5,2,2.5,3,3.5,4,4.5,5,5.5,6,6.5,7,7.5,8,8.5,9,9.5,10,10.5,11,11.5,12,12.5,13,13.5,14,14.5,15], "labels": false, "title": null, "tickSize": {"condition": {"test": "datum.value % 2 === 0", "value": -6}, "value": -3}}},
    "x2": {"datum": 15},
    "y": {"datum": 0, "type": "quantitative", "scale": {"domain": [-0.085, 1.215], "nice": false, "zero": false}, "axis": {"orient": "right", "values": [-0.05,0,0.05,0.1,0.15,0.2,0.25,0.3,0.35,0.4,0.45,0.5,0.55,0.6,0.65,0.7,0.75,0.8,0.85,0.9,0.95,1,1.05,1.1,1.15,1.2], "labels": false, "title": null, "tickSize": {"condition": {"test": "abs(datum.value*5 - round(datum.value*5)) < 0.001", "value": -5}, "value": -2.5}}}
   }},
  {"transform": [{"filter": "datum.m === 'M3' && datum.line === 'OI'"}],
   "mark": {"type": "circle", "size": 30, "opacity": 1},
   "encoding": {
    "x": {"field": "k", "type": "quantitative", "axis": {"orient": "bottom", "values": [1,1.5,2,2.5,3,3.5,4,4.5,5,5.5,6,6.5,7,7.5,8,8.5,9,9.5,10,10.5,11,11.5,12,12.5,13,13.5,14,14.5,15], "labels": false, "title": null, "tickSize": {"condition": {"test": "datum.value % 2 === 0", "value": -6}, "value": -3}}},
    "y": {"field": "val", "type": "quantitative", "axis": {"orient": "left", "values": [-0.05,0,0.05,0.1,0.15,0.2,0.25,0.3,0.35,0.4,0.45,0.5,0.55,0.6,0.65,0.7,0.75,0.8,0.85,0.9,0.95,1,1.05,1.1,1.15,1.2], "labels": true, "labelExpr": "datum.value > -0.01 && datum.value < 1.01 && abs(datum.value*5 - round(datum.value*5)) < 0.001 ? format(datum.value, '.1f') : ''", "title": "Λₖ (%)", "titlePadding": 2, "labelPadding": 7, "tickSize": {"condition": {"test": "abs(datum.value*5 - round(datum.value*5)) < 0.001", "value": -5}, "value": -2.5}}},
    "color": {"field": "phi", "type": "nominal", "scale": {"domain": ["φ=0°", "φ=15°", "φ=45°"], "range": ["#000000", "#ff0000", "#0000ff"]}, "legend": null}
   }}
 ],
 "resolve": {"axis": {"x": "independent", "y": "independent"}}
},
{"width": 151, "height": 92,
 "layer": [
  {"data": {"values": [{}]}, "mark": {"type": "rule", "strokeDash": [4, 3], "color": "#707070", "strokeWidth": 1},
   "encoding": {
    "x": {"datum": 1, "type": "quantitative", "scale": {"domain": [1, 15], "nice": false, "zero": false}, "axis": {"orient": "top", "values": [1,1.5,2,2.5,3,3.5,4,4.5,5,5.5,6,6.5,7,7.5,8,8.5,9,9.5,10,10.5,11,11.5,12,12.5,13,13.5,14,14.5,15], "labels": false, "title": null, "tickSize": {"condition": {"test": "datum.value % 2 === 0", "value": -6}, "value": -3}}},
    "x2": {"datum": 15},
    "y": {"datum": 0, "type": "quantitative", "scale": {"domain": [-0.085, 1.215], "nice": false, "zero": false}, "axis": {"orient": "right", "values": [-0.05,0,0.05,0.1,0.15,0.2,0.25,0.3,0.35,0.4,0.45,0.5,0.55,0.6,0.65,0.7,0.75,0.8,0.85,0.9,0.95,1,1.05,1.1,1.15,1.2], "labels": false, "title": "M3", "titleAngle": 0, "titleX": 3, "titleY": 8, "titleAlign": "left", "titleBaseline": "top", "titleFontWeight": "bold", "titleFontSize": 8.5, "tickSize": {"condition": {"test": "abs(datum.value*5 - round(datum.value*5)) < 0.001", "value": -5}, "value": -2.5}}}
   }},
  {"transform": [{"filter": "datum.m === 'M3' && datum.line === 'SII'"}],
   "mark": {"type": "circle", "size": 30, "opacity": 1},
   "encoding": {
    "x": {"field": "k", "type": "quantitative", "axis": {"orient": "bottom", "values": [1,1.5,2,2.5,3,3.5,4,4.5,5,5.5,6,6.5,7,7.5,8,8.5,9,9.5,10,10.5,11,11.5,12,12.5,13,13.5,14,14.5,15], "labels": false, "title": null, "tickSize": {"condition": {"test": "datum.value % 2 === 0", "value": -6}, "value": -3}}},
    "y": {"field": "val", "type": "quantitative", "axis": {"orient": "left", "values": [-0.05,0,0.05,0.1,0.15,0.2,0.25,0.3,0.35,0.4,0.45,0.5,0.55,0.6,0.65,0.7,0.75,0.8,0.85,0.9,0.95,1,1.05,1.1,1.15,1.2], "labels": false, "title": null, "tickSize": {"condition": {"test": "abs(datum.value*5 - round(datum.value*5)) < 0.001", "value": -5}, "value": -2.5}}},
    "color": {"field": "phi", "type": "nominal", "scale": {"domain": ["φ=0°", "φ=15°", "φ=45°"], "range": ["#000000", "#ff0000", "#0000ff"]}, "legend": null}
   }}
 ],
 "resolve": {"axis": {"x": "independent", "y": "independent"}}
},
{"width": 145, "height": 92,
 "layer": [
  {"data": {"values": [{}]}, "mark": {"type": "rule", "strokeDash": [4, 3], "color": "#707070", "strokeWidth": 1},
   "encoding": {
    "x": {"datum": 1, "type": "quantitative", "scale": {"domain": [1, 15], "nice": false, "zero": false}, "axis": {"orient": "top", "values": [1,1.5,2,2.5,3,3.5,4,4.5,5,5.5,6,6.5,7,7.5,8,8.5,9,9.5,10,10.5,11,11.5,12,12.5,13,13.5,14,14.5,15], "labels": false, "title": null, "tickSize": {"condition": {"test": "datum.value % 2 === 0", "value": -6}, "value": -3}}},
    "x2": {"datum": 15},
    "y": {"datum": 0, "type": "quantitative", "scale": {"domain": [-0.085, 1.215], "nice": false, "zero": false}, "axis": {"orient": "right", "values": [-0.05,0,0.05,0.1,0.15,0.2,0.25,0.3,0.35,0.4,0.45,0.5,0.55,0.6,0.65,0.7,0.75,0.8,0.85,0.9,0.95,1,1.05,1.1,1.15,1.2], "labels": false, "title": null, "tickSize": {"condition": {"test": "abs(datum.value*5 - round(datum.value*5)) < 0.001", "value": -5}, "value": -2.5}}}
   }},
  {"transform": [{"filter": "datum.m === 'M4' && datum.line === 'OI'"}],
   "mark": {"type": "circle", "size": 30, "opacity": 1},
   "encoding": {
    "x": {"field": "k", "type": "quantitative", "axis": {"orient": "bottom", "values": [1,1.5,2,2.5,3,3.5,4,4.5,5,5.5,6,6.5,7,7.5,8,8.5,9,9.5,10,10.5,11,11.5,12,12.5,13,13.5,14,14.5,15], "labels": true, "labelExpr": "datum.value % 2 === 0 ? format(datum.value, 'd') : ''", "title": "k", "titlePadding": 2, "labelPadding": 5, "tickSize": {"condition": {"test": "datum.value % 2 === 0", "value": -6}, "value": -3}}},
    "y": {"field": "val", "type": "quantitative", "axis": {"orient": "left", "values": [-0.05,0,0.05,0.1,0.15,0.2,0.25,0.3,0.35,0.4,0.45,0.5,0.55,0.6,0.65,0.7,0.75,0.8,0.85,0.9,0.95,1,1.05,1.1,1.15,1.2], "labels": true, "labelExpr": "datum.value > -0.01 && datum.value < 1.01 && abs(datum.value*5 - round(datum.value*5)) < 0.001 ? format(datum.value, '.1f') : ''", "title": "Λₖ (%)", "titlePadding": 2, "labelPadding": 7, "tickSize": {"condition": {"test": "abs(datum.value*5 - round(datum.value*5)) < 0.001", "value": -5}, "value": -2.5}}},
    "color": {"field": "phi", "type": "nominal", "scale": {"domain": ["φ=0°", "φ=15°", "φ=45°"], "range": ["#000000", "#ff0000", "#0000ff"]}, "legend": null}
   }}
 ],
 "resolve": {"axis": {"x": "independent", "y": "independent"}}
},
{"width": 151, "height": 92,
 "layer": [
  {"data": {"values": [{}]}, "mark": {"type": "rule", "strokeDash": [4, 3], "color": "#707070", "strokeWidth": 1},
   "encoding": {
    "x": {"datum": 1, "type": "quantitative", "scale": {"domain": [1, 15], "nice": false, "zero": false}, "axis": {"orient": "top", "values": [1,1.5,2,2.5,3,3.5,4,4.5,5,5.5,6,6.5,7,7.5,8,8.5,9,9.5,10,10.5,11,11.5,12,12.5,13,13.5,14,14.5,15], "labels": false, "title": null, "tickSize": {"condition": {"test": "datum.value % 2 === 0", "value": -6}, "value": -3}}},
    "x2": {"datum": 15},
    "y": {"datum": 0, "type": "quantitative", "scale": {"domain": [-0.085, 1.215], "nice": false, "zero": false}, "axis": {"orient": "right", "values": [-0.05,0,0.05,0.1,0.15,0.2,0.25,0.3,0.35,0.4,0.45,0.5,0.55,0.6,0.65,0.7,0.75,0.8,0.85,0.9,0.95,1,1.05,1.1,1.15,1.2], "labels": false, "title": "M4", "titleAngle": 0, "titleX": 3, "titleY": 8, "titleAlign": "left", "titleBaseline": "top", "titleFontWeight": "bold", "titleFontSize": 8.5, "tickSize": {"condition": {"test": "abs(datum.value*5 - round(datum.value*5)) < 0.001", "value": -5}, "value": -2.5}}}
   }},
  {"transform": [{"filter": "datum.m === 'M4' && datum.line === 'SII'"}],
   "mark": {"type": "circle", "size": 30, "opacity": 1},
   "encoding": {
    "x": {"field": "k", "type": "quantitative", "axis": {"orient": "bottom", "values": [1,1.5,2,2.5,3,3.5,4,4.5,5,5.5,6,6.5,7,7.5,8,8.5,9,9.5,10,10.5,11,11.5,12,12.5,13,13.5,14,14.5,15], "labels": true, "labelExpr": "datum.value % 2 === 0 ? format(datum.value, 'd') : ''", "title": "k", "titlePadding": 2, "labelPadding": 5, "tickSize": {"condition": {"test": "datum.value % 2 === 0", "value": -6}, "value": -3}}},
    "y": {"field": "val", "type": "quantitative", "axis": {"orient": "left", "values": [-0.05,0,0.05,0.1,0.15,0.2,0.25,0.3,0.35,0.4,0.45,0.5,0.55,0.6,0.65,0.7,0.75,0.8,0.85,0.9,0.95,1,1.05,1.1,1.15,1.2], "labels": false, "title": null, "tickSize": {"condition": {"test": "abs(datum.value*5 - round(datum.value*5)) < 0.001", "value": -5}, "value": -2.5}}},
    "color": {"field": "phi", "type": "nominal", "scale": {"domain": ["φ=0°", "φ=15°", "φ=45°"], "range": ["#000000", "#ff0000", "#0000ff"]}, "legend": null}
   }}
 ],
 "resolve": {"axis": {"x": "independent", "y": "independent"}}
}
],
"config": {
 "font": "Liberation Sans",
 "view": {"stroke": "#000000", "strokeWidth": 1},
 "axis": {"domain": false, "grid": false, "tickColor": "#000000", "tickWidth": 0.8, "labelFont": "Liberation Sans", "labelFontSize": 11, "labelColor": "#000000", "titleFont": "Liberation Sans", "titleFontSize": 11, "titleFontWeight": "normal", "titleColor": "#000000", "labelFlush": false, "labelOverlap": false}
}
}
